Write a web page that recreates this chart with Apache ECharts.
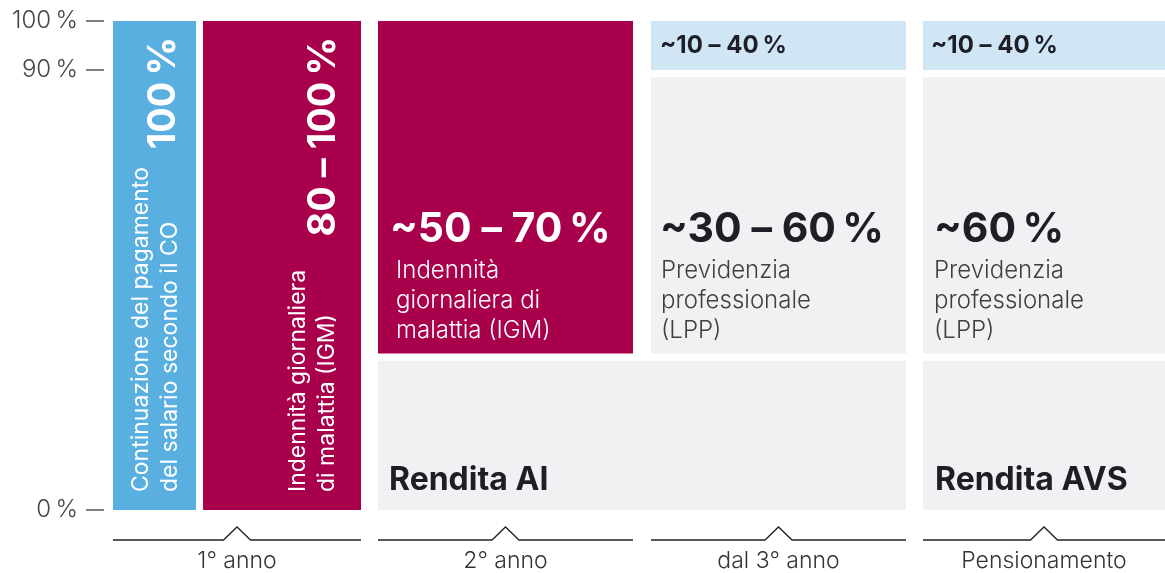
<!DOCTYPE html>
<html>
<head>
<meta charset="utf-8">
<script src="https://cdn.jsdelivr.net/npm/echarts@6/dist/echarts.min.js"></script>
<style>
html,body{margin:0;padding:0;background:#fff}
#chart{width:1165px;height:573px}
</style>
</head>
<body>
<div id="chart"></div>
<script>
// ---------------- data ----------------
const periods = ['1° anno', '2° anno', 'dal 3° anno', 'Pensionamento'];
const blockIds = ['CO', 'IGM-1', 'IGM-2', 'AI', 'LPP-3', 'EXTRA-3', 'AVS', 'LPP-P', 'EXTRA-P'];
const blockLow  = [0,   0,   32,  0,    32,   90,  0,    32,   90];
const blockHigh = [100, 100, 100, 30.5, 88.5, 100, 30.5, 88.5, 100];
const blockValueText = [
  '100\u202F%', '80 – 100\u202F%', '~50 – 70\u202F%', 'Rendita AI',
  '~30 – 60\u202F%', '~10 – 40\u202F%', 'Rendita AVS', '~60\u202F%', '~10 – 40\u202F%'
];
const blockDescText = [
  'Continuazione del pagamento\ndel salario secondo il CO',
  'Indennità giornaliera\ndi malattia (IGM)',
  'Indennità\ngiornaliera di\nmalattia (IGM)',
  '',
  'Previdenzia\nprofessionale\n(LPP)',
  '',
  '',
  'Previdenzia\nprofessionale\n(LPP)',
  ''
];
const yTickValues = [0, 90, 100];
const yTickLabels = ['0\u202F%', '90\u202F%', '100\u202F%'];

// ---------------- layout (horizontal slots on a hidden timeline axis) ----------------
const timelineMax = 1061;
const blockSlots = [[9, 92], [99, 257], [274, 529], [274, 802], [547, 802], [547, 802], [819, 1061], [819, 1061], [819, 1061]];
const periodSlots = [[9, 257], [274, 529], [547, 802], [819, 1061]];

// ---------------- styles ----------------
const FONT = 'Inter, Roboto, sans-serif';
const C_BLUE = '#5aafe1', C_RED = '#a8004a', C_GRAY = '#f0f1f3', C_LIGHT = '#d0e6f4', C_DARK = '#1e1e26';
const blockStyle = [
  { kind: 'vert', fill: C_BLUE, headX: 51, descX: 42.5 },
  { kind: 'vert', fill: C_RED, headX: 121, descX: 110 },
  { kind: 'panel', fill: C_RED, text: '#fff', desc: '#fff', headX: 12, descX: 18 },
  { kind: 'base', fill: C_GRAY, text: C_DARK, headX: 11 },
  { kind: 'panel', fill: C_GRAY, text: C_DARK, desc: '#404040', headX: 9, descX: 10 },
  { kind: 'strip', fill: C_LIGHT, text: C_DARK, headX: 9 },
  { kind: 'base', fill: C_GRAY, text: C_DARK, headX: 12 },
  { kind: 'panel', fill: C_GRAY, text: C_DARK, desc: '#404040', headX: 11, descX: 11 },
  { kind: 'strip', fill: C_LIGHT, text: C_DARK, headX: 8 }
];

function renderBlock(params, api) {
  const i = params.dataIndex;
  const tl = api.coord([api.value(0), api.value(3)]);
  const br = api.coord([api.value(1), api.value(2)]);
  const x = tl[0], y = tl[1], w = br[0] - tl[0], h = br[1] - tl[1];
  const st = blockStyle[i];
  const ch = [{ type: 'rect', shape: { x: x, y: y, width: w, height: h }, style: { fill: st.fill } }];
  if (st.kind === 'vert') {
    ch.push({ type: 'text', x: x + st.headX, y: y + 16, rotation: Math.PI / 2,
      style: { text: blockValueText[i], fill: '#fff', font: '700 38px ' + FONT, align: 'right', verticalAlign: 'middle' } });
    ch.push({ type: 'text', x: x + st.descX, y: y + h - 18, rotation: Math.PI / 2,
      style: { text: blockDescText[i], fill: '#fff', font: '400 23px ' + FONT, lineHeight: 29, align: 'left', verticalAlign: 'middle' } });
  } else if (st.kind === 'panel') {
    ch.push({ type: 'text', x: x + st.headX, y: y + h - 124,
      style: { text: blockValueText[i], fill: st.text, font: '700 41px ' + FONT, align: 'left', verticalAlign: 'middle' } });
    ch.push({ type: 'text', x: x + st.descX, y: y + h - 8,
      style: { text: blockDescText[i], fill: st.desc, font: '300 24px ' + FONT, lineHeight: 30, align: 'left', verticalAlign: 'bottom' } });
  } else if (st.kind === 'strip') {
    ch.push({ type: 'text', x: x + st.headX, y: y + h / 2,
      style: { text: blockValueText[i], fill: st.text, font: '700 24px ' + FONT, align: 'left', verticalAlign: 'middle' } });
  } else {
    ch.push({ type: 'text', x: x + st.headX, y: y + h - 30,
      style: { text: blockValueText[i], fill: st.text, font: '700 32px ' + FONT, align: 'left', verticalAlign: 'middle' } });
  }
  return { type: 'group', children: ch };
}

function renderPeriod(params, api) {
  const k = params.dataIndex;
  const a = api.coord([api.value(0), 0]);
  const b = api.coord([api.value(1), 0]);
  const Y = a[1] + 30;
  const cx = (a[0] + b[0]) / 2;
  return {
    type: 'group',
    children: [
      { type: 'polyline', shape: { points: [[a[0], Y], [cx - 13.5, Y], [cx, Y - 13], [cx + 13.5, Y], [b[0], Y]] },
        style: { stroke: '#222', lineWidth: 1.3, fill: null } },
      { type: 'text', x: cx, y: Y + 21,
        style: { text: periods[k], fill: '#333', font: '300 23px ' + FONT, align: 'center', verticalAlign: 'middle' } }
    ]
  };
}

const chart = echarts.init(document.getElementById('chart'), null, { renderer: 'canvas' });
chart.setOption({
  animation: false,
  backgroundColor: '#fff',
  grid: { left: 104, right: 0, top: 21, bottom: 63 },
  xAxis: { type: 'value', min: 0, max: timelineMax, show: false },
  yAxis: {
    type: 'value', min: 0, max: 100,
    axisLine: { show: false },
    splitLine: { show: false },
    axisTick: { show: true, customValues: yTickValues, length: 18, lineStyle: { color: '#555', width: 1.5 } },
    axisLabel: {
      customValues: yTickValues,
      formatter: function (v) { return yTickLabels[yTickValues.indexOf(v)]; },
      margin: 26, fontSize: 24, fontFamily: FONT, fontWeight: 300, color: '#444'
    }
  },
  series: [
    {
      type: 'custom', name: 'blocks', clip: false,
      data: blockIds.map(function (id, i) { return [blockSlots[i][0], blockSlots[i][1], blockLow[i], blockHigh[i]]; }),
      encode: { x: [0, 1], y: [2, 3] },
      renderItem: renderBlock
    },
    {
      type: 'custom', name: 'periods', clip: false,
      data: periods.map(function (p, k) { return [periodSlots[k][0], periodSlots[k][1]]; }),
      encode: { x: [0, 1] },
      renderItem: renderPeriod
    }
  ]
});
</script>
</body>
</html>
